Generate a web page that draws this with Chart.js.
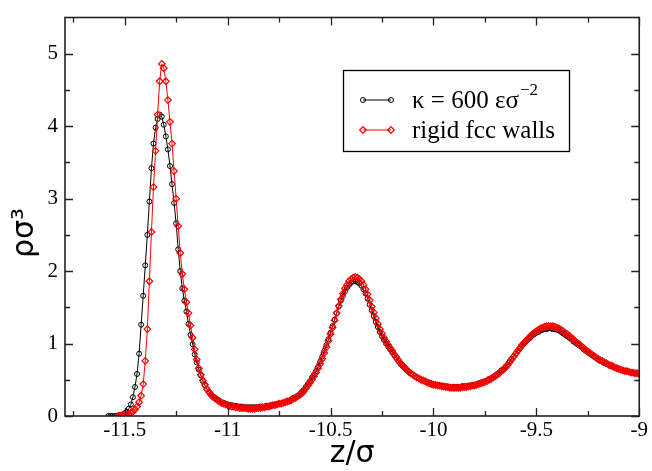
<!DOCTYPE html>
<html lang="en">
<head>
<meta charset="UTF-8">
<title>density profile</title>
<style>
  html, body { margin: 0; padding: 0; background: #fff; }
  canvas { display: block; }
</style>
</head>
<body>
<canvas id="profile" width="652" height="471"></canvas>
<script src="https://cdn.jsdelivr.net/npm/chart.js"></script>
<script>
// z grid: both runs are sampled every 0.01 sigma
const zStep = 0.01;
const zStartSoft = -11.58;   // kappa = 600 run
const zStartRigid = -11.53;  // rigid fcc walls run

// rho*sigma^3, kappa = 600 eps sigma^-2 (black circles), from z = -11.58
const rhoSoft = [
  0.00,0.00,0.00,0.00,0.00,0.01,0.01,0.02,0.04,0.06,
  0.10,0.16,0.26,0.40,0.58,0.86,1.26,1.66,2.08,2.50,
  2.96,3.42,3.76,3.98,4.10,4.16,4.13,4.02,3.86,3.68,
  3.45,3.20,2.94,2.66,2.30,2.00,1.76,1.59,1.44,1.27,
  1.12,0.99,0.85,0.74,0.64,0.56,0.48,0.42,0.37,0.33,
  0.30,0.27,0.25,0.23,0.21,0.19,0.18,0.17,0.16,0.15,
  0.15,0.14,0.14,0.13,0.13,0.13,0.12,0.12,0.12,0.12,
  0.12,0.12,0.12,0.12,0.13,0.13,0.13,0.14,0.14,0.15,
  0.15,0.16,0.16,0.17,0.17,0.18,0.19,0.20,0.21,0.23,
  0.25,0.26,0.28,0.30,0.33,0.36,0.40,0.44,0.48,0.53,
  0.57,0.62,0.68,0.75,0.82,0.90,0.98,1.06,1.15,1.24,
  1.33,1.42,1.51,1.59,1.66,1.72,1.77,1.81,1.84,1.86,
  1.86,1.85,1.83,1.80,1.75,1.69,1.62,1.54,1.46,1.38,
  1.30,1.23,1.16,1.10,1.05,1.00,0.96,0.92,0.88,0.84,
  0.80,0.76,0.72,0.69,0.66,0.63,0.61,0.59,0.57,0.55,
  0.53,0.52,0.50,0.49,0.48,0.47,0.46,0.45,0.44,0.43,
  0.43,0.42,0.42,0.41,0.41,0.40,0.40,0.40,0.40,0.40,
  0.40,0.40,0.41,0.41,0.41,0.42,0.42,0.43,0.43,0.44,
  0.45,0.46,0.47,0.48,0.49,0.51,0.52,0.54,0.56,0.58,
  0.60,0.63,0.65,0.68,0.71,0.75,0.79,0.82,0.86,0.90,
  0.93,0.97,1.00,1.03,1.06,1.08,1.11,1.13,1.15,1.16,
  1.18,1.19,1.20,1.20,1.21,1.21,1.20,1.20,1.19,1.18,
  1.16,1.14,1.12,1.10,1.08,1.06,1.03,1.01,0.99,0.97,
  0.95,0.92,0.90,0.88,0.86,0.84,0.82,0.80,0.78,0.76,
  0.75,0.73,0.72,0.71,0.69,0.68,0.67,0.66,0.65,0.64,
  0.63,0.62,0.62,0.61,0.60,0.60,0.59,0.59,0.58
];

// rho*sigma^3, rigid fcc walls (red diamonds), from z = -11.53
const rhoRigid = [
  0.00,0.00,0.01,0.01,0.02,0.03,0.04,0.06,0.09,0.13,
  0.19,0.28,0.44,0.76,1.20,1.86,2.54,3.16,3.66,4.16,
  4.62,4.86,4.80,4.62,4.36,4.06,3.76,3.38,3.00,2.62,
  2.25,1.96,1.75,1.57,1.42,1.25,1.08,0.92,0.78,0.66,
  0.57,0.49,0.43,0.37,0.33,0.29,0.26,0.24,0.22,0.20,
  0.18,0.17,0.16,0.15,0.14,0.13,0.13,0.12,0.12,0.11,
  0.11,0.11,0.11,0.10,0.10,0.10,0.10,0.11,0.11,0.11,
  0.12,0.12,0.13,0.13,0.14,0.15,0.15,0.16,0.17,0.17,
  0.18,0.19,0.20,0.21,0.22,0.24,0.25,0.27,0.29,0.31,
  0.34,0.38,0.42,0.46,0.50,0.55,0.60,0.66,0.72,0.79,
  0.87,0.95,1.04,1.13,1.22,1.32,1.42,1.52,1.61,1.69,
  1.76,1.81,1.86,1.89,1.91,1.92,1.91,1.89,1.86,1.81,
  1.75,1.68,1.60,1.51,1.43,1.35,1.27,1.20,1.14,1.08,
  1.03,0.98,0.94,0.90,0.85,0.81,0.77,0.73,0.70,0.67,
  0.64,0.61,0.59,0.57,0.55,0.53,0.52,0.50,0.49,0.48,
  0.46,0.45,0.44,0.43,0.43,0.42,0.42,0.41,0.41,0.40,
  0.40,0.39,0.39,0.39,0.39,0.39,0.39,0.40,0.40,0.40,
  0.41,0.41,0.42,0.42,0.43,0.44,0.45,0.46,0.47,0.48,
  0.50,0.51,0.53,0.55,0.57,0.59,0.62,0.64,0.67,0.70,
  0.74,0.78,0.82,0.86,0.90,0.94,0.98,1.01,1.04,1.07,
  1.10,1.13,1.15,1.17,1.19,1.21,1.22,1.23,1.24,1.24,
  1.24,1.24,1.23,1.22,1.21,1.19,1.17,1.15,1.13,1.11,
  1.08,1.06,1.03,1.01,0.99,0.96,0.94,0.91,0.89,0.87,
  0.85,0.83,0.81,0.79,0.77,0.76,0.74,0.73,0.71,0.70,
  0.69,0.67,0.66,0.65,0.64,0.63,0.62,0.62,0.61,0.60,
  0.60,0.59,0.59,0.58
];

const xTicks = [-11.5, -11, -10.5, -10, -9.5, -9];
const xMinorTicks = [-11.75, -11.25, -10.75, -10.25, -9.75, -9.25];
const yTicks = [0, 1, 2, 3, 4, 5];
const yMinorTicks = [0.5, 1.5, 2.5, 3.5, 4.5];

const legendLabels = ['\u03ba = 600 \u03b5\u03c3', 'rigid fcc walls'];
const legendSup = '\u22122';
const yTitle = '\u03c1\u03c3\u00b3';

const serif = "'Liberation Serif', 'Times New Roman', serif";
const sans = "'DejaVu Sans', 'Liberation Sans', sans-serif";

function toPoints(start, values) {
  return values.map((v, i) => ({ x: +(start + i * zStep).toFixed(2), y: v }));
}

// circle / diamond markers for the hand drawn legend
function marker(ctx, style, x, y, r) {
  ctx.beginPath();
  if (style === 'circle') {
    ctx.arc(x, y, r, 0, Math.PI * 2);
  } else {
    ctx.moveTo(x, y - r); ctx.lineTo(x + r, y);
    ctx.lineTo(x, y + r); ctx.lineTo(x - r, y);
    ctx.closePath();
  }
  ctx.stroke();
}

// inward ticks on all four sides, frame, y title and the boxed legend
const frame = {
  id: 'frame',
  afterDraw(chart) {
    const { ctx, chartArea: a, scales: { x, y } } = chart;
    ctx.save();
    ctx.strokeStyle = '#222';
    ctx.lineWidth = 1.3;
    ctx.beginPath();
    const xt = (list, len) => list.forEach(v => {
      const px = Math.round(x.getPixelForValue(v)) + 0.5;
      ctx.moveTo(px, a.bottom); ctx.lineTo(px, a.bottom - len);
      ctx.moveTo(px, a.top); ctx.lineTo(px, a.top + len);
    });
    const yt = (list, len) => list.forEach(v => {
      const py = Math.round(y.getPixelForValue(v)) + 0.5;
      ctx.moveTo(a.left, py); ctx.lineTo(a.left + len, py);
      ctx.moveTo(a.right, py); ctx.lineTo(a.right - len, py);
    });
    xt(xTicks, 8); xt(xMinorTicks, 5);
    yt(yTicks, 8); yt(yMinorTicks, 5);
    ctx.stroke();
    ctx.lineWidth = 1.6;
    ctx.strokeRect(a.left, a.top, a.right - a.left, a.bottom - a.top);

    // y axis title, a bit below the middle of the axis as in the original
    ctx.save();
    ctx.translate(25, 233);
    ctx.rotate(-Math.PI / 2);
    ctx.fillStyle = '#000';
    ctx.font = '30px ' + sans;
    ctx.textAlign = 'center';
    ctx.textBaseline = 'middle';
    ctx.fillText(yTitle, 0, 0);
    ctx.restore();

    // legend box
    const bx = 343, by = 70, bw = 226, bh = 81;
    ctx.strokeStyle = '#000';
    ctx.lineWidth = 1.3;
    ctx.strokeRect(bx + 0.5, by + 0.5, bw, bh);
    const rows = [100, 130];
    const colors = ['#000', '#ff0000'];
    const styles = ['circle', 'diamond'];
    rows.forEach((ry, i) => {
      ctx.strokeStyle = colors[i];
      ctx.lineWidth = 1;
      ctx.beginPath();
      ctx.moveTo(363, ry); ctx.lineTo(391, ry);
      ctx.stroke();
      ctx.lineWidth = i ? 1.2 : 1;
      marker(ctx, styles[i], 363, ry, i ? 3.3 : 2.5);
      marker(ctx, styles[i], 391, ry, i ? 3.3 : 2.5);
      ctx.fillStyle = '#000';
      ctx.font = '25px ' + serif;
      ctx.textBaseline = 'middle';
      ctx.textAlign = 'left';
      ctx.fillText(legendLabels[i], 412, ry + 1);
      if (i === 0) {
        const w = ctx.measureText(legendLabels[i]).width;
        ctx.font = '17px ' + serif;
        ctx.fillText(legendSup, 412 + w + 1, ry - 9);
      }
    });
    ctx.restore();
  }
};

const config = {
  type: 'line',
  data: {
    datasets: [
      {
        label: 'rigid fcc walls',
        data: toPoints(zStartRigid, rhoRigid),
        borderColor: '#ff0000',
        borderWidth: 1,
        pointStyle: 'rectRot',
        pointRadius: 3.3,
        pointBorderWidth: 1.2,
        pointBorderColor: '#ff0000',
        pointBackgroundColor: 'rgba(255,255,255,0)',
        order: 0
      },
      {
        label: 'kappa = 600',
        data: toPoints(zStartSoft, rhoSoft),
        borderColor: '#000',
        borderWidth: 1,
        pointStyle: 'circle',
        pointRadius: 2.5,
        pointBorderWidth: 1,
        pointBorderColor: '#000',
        pointBackgroundColor: 'rgba(255,255,255,0)',
        order: 1
      }
    ]
  },
  options: {
    responsive: false,
    animation: false,
    events: [],
    layout: { padding: { top: 12, right: 9, left: 0, bottom: 0 } },
    plugins: { legend: { display: false }, tooltip: { enabled: false } },
    scales: {
      x: {
        type: 'linear',
        min: -11.79,
        max: -9,
        grid: { display: false, drawTicks: false },
        border: { display: false },
        afterBuildTicks: s => { s.ticks = xTicks.map(v => ({ value: v })); },
        afterFit: s => { s.height = 55; },
        ticks: {
          color: '#000',
          padding: 4,
          maxRotation: 0,
          callback: v => String(v),
          font: { family: serif, size: 21, lineHeight: 1 }
        },
        title: {
          display: true,
          text: 'z/\u03c3',
          color: '#000',
          padding: { top: 0, bottom: 2 },
          font: { family: sans, size: 30, lineHeight: 1.0 }
        }
      },
      y: {
        min: 0,
        max: 5.5,
        grid: { display: false, drawTicks: false },
        border: { display: false },
        afterBuildTicks: s => { s.ticks = yTicks.map(v => ({ value: v })); },
        afterFit: s => { s.width = 65; },
        ticks: {
          color: '#000',
          padding: 7,
          callback: v => String(v),
          font: { family: serif, size: 21, lineHeight: 1 }
        }
      }
    }
  },
  plugins: [frame]
};

const ctx = document.querySelector('#profile');
const profileChart = new Chart(ctx, config);
</script>
</body>
</html>
